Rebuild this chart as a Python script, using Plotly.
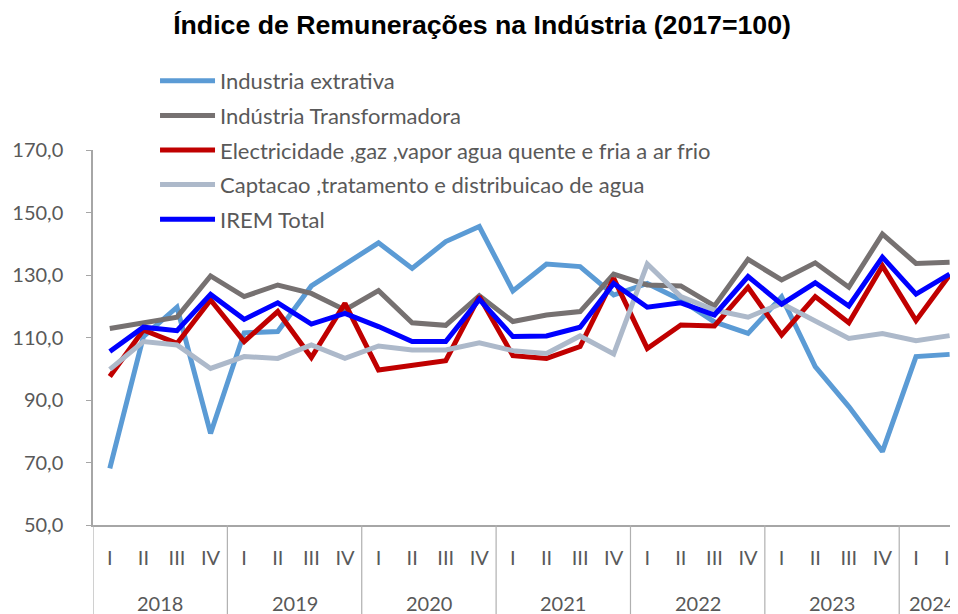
import plotly.graph_objects as go

years = ["2018"] * 4 + ["2019"] * 4 + ["2020"] * 4 + ["2021"] * 4 + ["2022"] * 4 + ["2023"] * 4 + ["2024"] * 2
quarters = ["I", "II", "III", "IV"] * 6 + ["I", "II"]

extrativa = [68.1, 110.3, 119.7, 79.3, 111.5, 111.9, 126.5, 133.5, 140.3, 132.1, 140.7, 145.5,
             124.9, 133.5, 132.7, 123.6, 127.3, 122.0, 115.0, 111.3, 123.0, 100.7, 87.9, 73.5, 103.9, 104.6]
transformadora = [112.9, 114.5, 116.5, 129.7, 123.1, 126.8, 124.1, 118.8, 125.0, 114.7, 113.9, 123.4,
                  115.1, 117.2, 118.3, 130.3, 126.8, 126.5, 120.1, 135.0, 128.4, 133.9, 126.1, 143.1, 133.7, 134.1]
electricidade = [97.5, 112.4, 108.1, 122.0, 108.7, 118.3, 103.6, 120.9, 99.6, 100.9, 102.6, 123.1,
                 104.2, 103.3, 107.1, 128.9, 106.5, 114.0, 113.7, 126.1, 110.8, 123.1, 114.7, 132.9, 115.4, 130.0]
captacao = [99.8, 108.7, 107.6, 100.1, 103.9, 103.3, 107.6, 103.3, 107.3, 106.0, 106.0, 108.3,
            105.8, 104.9, 110.5, 104.7, 133.5, 123.1, 118.8, 116.5, 120.9, 115.4, 109.7, 111.3, 109.0, 110.6]
irem_total = [105.5, 113.3, 112.2, 123.8, 115.8, 121.1, 114.3, 117.7, 113.5, 108.7, 108.7, 122.2,
              110.3, 110.5, 113.3, 127.3, 119.7, 121.1, 117.2, 129.5, 120.7, 127.5, 120.1, 135.7, 123.9, 130.3]

series_names = [
    "Industria extrativa",
    "Indústria Transformadora",
    "Electricidade ,gaz ,vapor agua quente e fria a ar frio",
    "Captacao ,tratamento e distribuicao de agua",
    "IREM Total",
]
series_values = [extrativa, transformadora, electricidade, captacao, irem_total]
series_colors = ["#5B9BD5", "#767171", "#C00000", "#ADB9CA", "#0000FF"]

idx = list(range(len(quarters)))

fig = go.Figure()
for i, (name, vals, col) in enumerate(zip(series_names, series_values, series_colors)):
    fig.add_trace(go.Scatter(
        x=idx, y=vals, name=name, mode="lines",
        line=dict(color=col, width=5), legendgroup=f"g{i}",
    ))

# year labels and dividers
year_order = []
for y in years:
    if y not in year_order:
        year_order.append(y)
for yr in year_order:
    pos = [i for i, y in enumerate(years) if y == yr]
    fig.add_annotation(
        x=sum(pos) / len(pos), y=-0.208, xref="x", yref="paper",
        text=yr, showarrow=False, yanchor="middle",
        font=dict(family="Lato, Open Sans, sans-serif", size=20, color="#595959"),
    )
    fig.add_shape(
        type="line", xref="x", yref="paper",
        x0=pos[0] - 0.5, x1=pos[0] - 0.5, y0=0, y1=-0.3,
        line=dict(color="#B0B0B0", width=1.2),
    )

fig.update_layout(
    width=950, height=606,
    margin=dict(l=85, r=0, t=142, b=89),
    paper_bgcolor="white", plot_bgcolor="white",
    separators=", ",
    title=dict(
        text="<b>Índice de Remunerações na Indústria (2017=100)</b>",
        x=0.499, xanchor="center", y=0.972, yanchor="middle",
        font=dict(family="Liberation Sans, Arial", size=26.7, color="#000000"),
    ),
    font=dict(family="Lato, Open Sans, sans-serif", size=20, color="#595959"),
    showlegend=True,
    legend=dict(
        x=0.0717, xanchor="left", y=1.24, yanchor="top",
        bgcolor="rgba(0,0,0,0)", tracegroupgap=3, itemwidth=55,
        font=dict(family="Lato, Open Sans, sans-serif", size=22, color="#595959"),
    ),
    xaxis=dict(
        range=[-0.5, 25.25], tickmode="array", tickvals=idx, ticktext=quarters,
        showline=True, linecolor="#A6A6A6", linewidth=1.5,
        showgrid=False, zeroline=False,
        ticks="outside", ticklen=14, tickcolor="rgba(0,0,0,0)",
        tickfont=dict(family="Lato, Open Sans, sans-serif", size=20, color="#595959"),
    ),
    yaxis=dict(
        range=[50, 170], dtick=20, tick0=50, tickformat=".1f",
        showline=True, linecolor="#A6A6A6", linewidth=1.5,
        showgrid=False, zeroline=False,
        ticks="outside", ticklen=5, tickcolor="#A6A6A6",
        ticklabelstandoff=19,
        tickfont=dict(family="Lato, Open Sans, sans-serif", size=20, color="#595959"),
    ),
)

fig.write_html("out.html")
